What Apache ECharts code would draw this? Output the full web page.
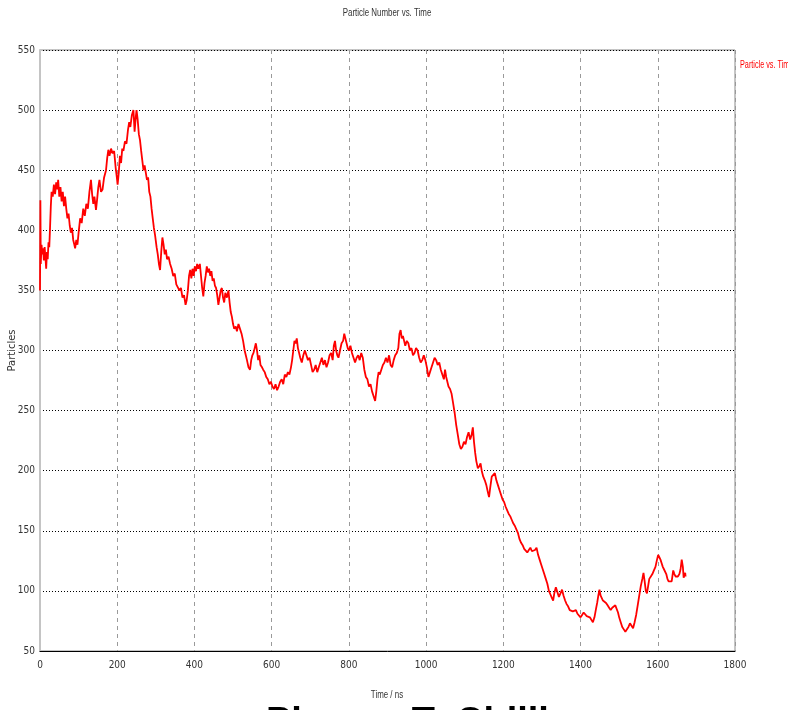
<!DOCTYPE html>
<html>
<head>
<meta charset="utf-8">
<script src="https://cdn.jsdelivr.net/npm/echarts@6/dist/echarts.min.js"></script>
<style>
  html, body { margin: 0; padding: 0; background: #fff; }
  #chart { width: 788px; height: 710px; }
</style>
</head>
<body>
<div id="chart"></div>
<script>
// Simulation time (ns) and particle count at that time
const timeNs = [
  0, 1, 2, 4, 6, 8, 10, 12, 14, 16, 18, 20, 22, 24, 26, 28, 30, 33, 36, 39, 42, 45, 47, 50, 53, 56, 59, 62, 65, 68,
  71, 74, 77, 80, 83, 86, 89, 91, 94, 97, 100, 104, 108, 112, 116, 120, 124, 128, 132, 135, 138, 141, 145, 148, 151, 154, 158, 162, 166, 171,
  174, 177, 180, 184, 188, 192, 196, 199, 201, 204, 207, 210, 213, 216, 220, 224, 228, 231, 234, 238, 242, 245, 248, 250, 253, 256, 259, 262, 265, 268,
  271, 274, 277, 280, 283, 286, 289, 292, 295, 298, 302, 305, 308, 311, 314, 317, 320, 323, 326, 329, 333, 337, 341, 345, 349, 353, 357, 361, 365, 369,
  373, 377, 380, 383, 386, 389, 392, 395, 398, 401, 404, 407, 410, 414, 417, 420, 423, 426, 429, 432, 435, 438, 441, 444, 447, 450, 453, 456, 459, 462,
  465, 468, 471, 474, 477, 480, 484, 488, 491, 494, 497, 500, 503, 507, 510, 514, 518, 522, 526, 530, 533, 536, 540, 544, 547, 550, 553, 556, 559, 562,
  565, 568, 571, 575, 578, 582, 586, 590, 594, 598, 602, 606, 610, 614, 618, 622, 626, 630, 634, 638, 642, 646, 650, 653, 656, 659, 662, 665, 668, 671,
  674, 678, 682, 686, 690, 694, 698, 702, 706, 710, 714, 718, 722, 726, 730, 734, 738, 742, 746, 750, 754, 758, 761, 764, 767, 770, 773, 777, 781, 785,
  788, 791, 794, 797, 800, 804, 808, 812, 816, 820, 824, 828, 832, 836, 840, 844, 848, 852, 856, 860, 864, 868, 871, 874, 877, 880, 884, 888, 892, 896,
  900, 904, 908, 912, 916, 920, 924, 928, 931, 934, 937, 940, 943, 946, 950, 954, 958, 962, 966, 970, 974, 978, 982, 986, 990, 994, 998, 1002, 1006, 1010,
  1014, 1018, 1022, 1026, 1030, 1034, 1038, 1042, 1046, 1049, 1052, 1055, 1058, 1062, 1066, 1070, 1074, 1078, 1082, 1086, 1090, 1094, 1098, 1102, 1106, 1110, 1114, 1118, 1121, 1124,
  1127, 1130, 1134, 1138, 1141, 1144, 1148, 1152, 1156, 1160, 1163, 1166, 1170, 1174, 1178, 1182, 1186, 1190, 1194, 1198, 1202, 1206, 1210, 1214, 1218, 1222, 1226, 1230, 1234, 1238,
  1242, 1246, 1250, 1254, 1258, 1262, 1266, 1270, 1274, 1278, 1282, 1286, 1290, 1294, 1298, 1302, 1306, 1310, 1314, 1318, 1322, 1326, 1329, 1332, 1336, 1340, 1344, 1348, 1352, 1356,
  1360, 1364, 1368, 1372, 1376, 1380, 1384, 1388, 1392, 1396, 1400, 1404, 1408, 1412, 1416, 1420, 1424, 1428, 1432, 1436, 1440, 1443, 1446, 1449, 1452, 1455, 1458, 1462, 1466, 1470,
  1474, 1478, 1482, 1486, 1490, 1494, 1497, 1500, 1504, 1508, 1512, 1516, 1520, 1524, 1528, 1532, 1536, 1540, 1544, 1548, 1552, 1556, 1560, 1563, 1566, 1569, 1572, 1575, 1578, 1582,
  1586, 1590, 1594, 1598, 1601, 1604, 1607, 1610, 1613, 1616, 1619, 1622, 1625, 1628, 1632, 1636, 1640, 1643, 1646, 1649, 1652, 1656, 1659, 1662, 1665, 1667, 1669, 1671, 1672
];
const particles = [
  350, 425, 372, 388, 380, 385, 375, 386, 378, 368, 382, 376, 390, 386, 402, 420, 432, 428, 438, 430, 440, 434, 442, 428, 436, 424, 432, 420, 428, 418,
  410, 414, 404, 398, 402, 392, 388, 385, 392, 388, 398, 410, 406, 418, 412, 422, 418, 432, 442, 430, 422, 428, 417, 426, 436, 442, 432, 434, 444, 450,
  460, 467, 462, 468, 464, 466, 452, 444, 438, 448, 462, 456, 468, 466, 474, 472, 484, 490, 486, 496, 500, 482, 494, 500, 492, 480, 475, 466, 458, 450,
  454, 448, 442, 444, 432, 428, 418, 410, 402, 396, 386, 380, 372, 367, 382, 394, 388, 380, 384, 376, 378, 372, 368, 362, 364, 355, 356, 350, 352, 344,
  346, 338, 342, 350, 362, 367, 360, 368, 362, 370, 366, 372, 368, 372, 362, 352, 345, 356, 362, 370, 365, 368, 362, 366, 358, 360, 354, 352, 346, 338,
  344, 350, 352, 344, 340, 348, 344, 350, 340, 332, 328, 322, 318, 320, 316, 322, 318, 314, 308, 300, 296, 292, 286, 284, 292, 296, 298, 302, 306, 300,
  292, 296, 288, 286, 284, 282, 278, 276, 272, 274, 270, 268, 272, 267, 270, 274, 276, 272, 280, 278, 282, 280, 286, 292, 300, 308, 306, 310, 302, 298,
  294, 290, 296, 300, 296, 292, 294, 288, 282, 284, 288, 282, 286, 290, 294, 288, 292, 286, 290, 296, 298, 292, 304, 308, 300, 296, 294, 300, 306, 308,
  314, 310, 306, 302, 300, 304, 298, 294, 290, 294, 296, 292, 298, 294, 284, 278, 276, 270, 272, 266, 262, 258, 266, 276, 282, 280, 284, 288, 290, 294,
  290, 296, 288, 286, 292, 296, 298, 302, 314, 317, 310, 312, 308, 304, 308, 306, 300, 302, 296, 298, 302, 300, 294, 290, 292, 296, 292, 286, 278, 282,
  286, 290, 294, 292, 288, 290, 284, 280, 276, 284, 278, 274, 270, 268, 264, 256, 248, 238, 230, 222, 218, 220, 224, 222, 228, 232, 226, 230, 236, 224,
  215, 208, 202, 204, 206, 200, 195, 192, 188, 182, 178, 186, 195, 196, 198, 192, 188, 184, 180, 176, 174, 170, 167, 164, 162, 159, 156, 154, 151, 148,
  143, 140, 138, 135, 134, 132, 134, 136, 133, 132, 134, 136, 130, 126, 122, 118, 114, 110, 106, 100, 97, 94, 92, 98, 103, 99, 95, 98, 101, 96,
  92, 89, 87, 84, 85, 83, 82, 84, 81, 80, 78, 80, 82, 81, 79, 80, 78, 76, 74, 78, 85, 90, 96, 101, 96, 94, 92, 91, 90, 88,
  86, 84, 86, 85, 88, 88, 82, 78, 74, 70, 68, 66, 66, 70, 73, 71, 69, 74, 80, 88, 96, 104, 110, 115, 108, 100, 98, 104, 110, 112,
  114, 117, 120, 126, 130, 128, 126, 123, 120, 118, 117, 114, 110, 108, 107, 108, 117, 114, 112, 113, 112, 114, 118, 126, 120, 111, 113, 115, 112
];
const xTicks = { min: 0, max: 1800, step: 200 };
const yTicks = { min: 50, max: 550, step: 50 };

const chart = echarts.init(document.getElementById('chart'), null, { renderer: 'canvas' });
const narrow = "'Liberation Sans Narrow', 'DejaVu Sans Condensed', sans-serif";
const smallText = (text, x, y, color, align, sx) => ({
  type: 'text', x: x, y: y, scaleX: sx,
  style: {
    text: text, fill: color, align: align, verticalAlign: 'middle',
    font: "11px 'Liberation Sans', sans-serif"
  }
});

chart.setOption({
  backgroundColor: '#ffffff',
  animation: false,
  legend: { show: false },
  grid: {
    left: 40, right: 53, top: 50, bottom: 59,
    containLabel: false, outerBoundsMode: 'none',
    show: true, borderColor: '#8a8a8a', borderWidth: 1, backgroundColor: 'transparent'
  },
  xAxis: {
    type: 'value', min: xTicks.min, max: xTicks.max, interval: xTicks.step,
    axisLine: { show: true, onZero: false, lineStyle: { color: '#000', width: 1 } },
    axisTick: { show: false },
    axisLabel: {
      fontFamily: narrow, fontSize: 10, color: '#333', margin: 9,
      formatter: (v) => String(v)
    },
    splitLine: { show: true, lineStyle: { color: '#9a9a9a', type: [4, 4], width: 1 } }
  },
  yAxis: {
    type: 'value', min: yTicks.min, max: yTicks.max, interval: yTicks.step,
    name: 'Particles', nameLocation: 'middle', nameGap: 23, nameRotate: 90,
    nameMoveOverlap: false,
    nameTextStyle: { fontFamily: "'DejaVu Sans', sans-serif", fontSize: 10, color: '#333' },
    axisLine: { show: true, onZero: false, lineStyle: { color: '#c4c4c4', width: 2 } },
    axisTick: { show: false },
    axisLabel: { fontFamily: narrow, fontSize: 10, color: '#333', margin: 5 },
    splitLine: { show: true, lineStyle: { color: '#000', type: [1, 2], width: 1 } }
  },
  series: [{
    name: 'Particle vs. Time',
    type: 'line',
    showSymbol: false,
    symbol: 'none',
    lineStyle: { color: '#ff0000', width: 1.8 },
    itemStyle: { color: '#ff0000' },
    data: timeNs.map((t, i) => [t, particles[i]])
  }],
  graphic: [
    smallText('Particle Number vs. Time', 387, 13, '#333', 'center', 0.72),
    smallText('Particle vs. Time', 740, 65, '#ff0000', 'left', 0.66),
    smallText('Time / ns', 387, 695, '#333', 'center', 0.72),
    {
      type: 'text', left: 266, top: 705,
      style: {
        text: 'Pions \u2013 T  Chilli',
        font: "bold 38px 'Liberation Sans', sans-serif",
        fill: '#000'
      }
    }
  ]
});
</script>
</body>
</html>
